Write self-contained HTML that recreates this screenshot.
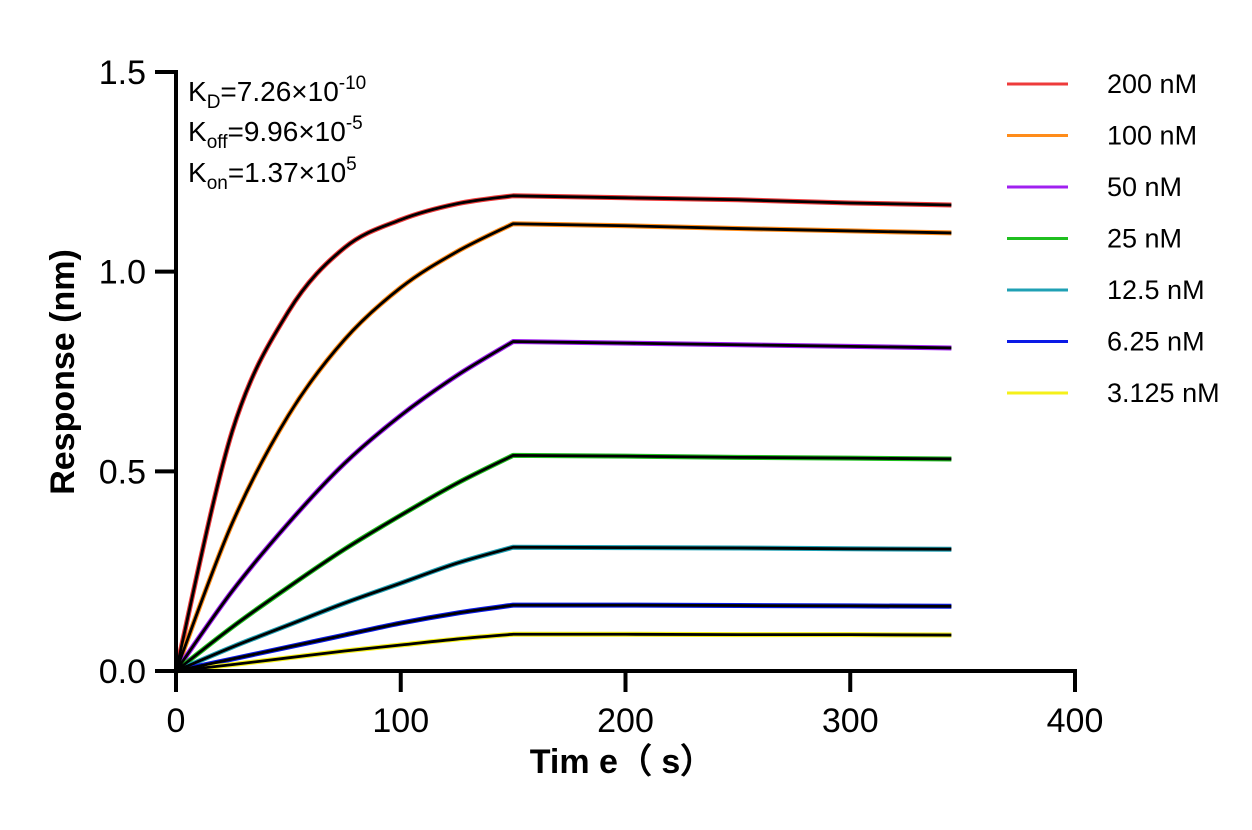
<!DOCTYPE html>
<html><head><meta charset="utf-8"><style>
body{margin:0;background:#fff}
svg text{font-family:"Liberation Sans",Arial,sans-serif;fill:#000}
</style></head><body>
<svg id="c" width="1252" height="825" xmlns="http://www.w3.org/2000/svg"></svg>
<script>
const times=[0,25,50,75,100,125,150,200,250,300,345];
const seriesNames=["200 nM","100 nM","50 nM","25 nM","12.5 nM","6.25 nM","3.125 nM"];
const seriesColors=["#ee3b3b","#ff8c1a","#a020f0","#1fbf1f","#1fa0b4","#0a1ae6","#f5f01a"];
const s200=[0,0.60,0.90,1.06,1.13,1.17,1.19,1.185,1.18,1.172,1.167];
const s100=[0,0.37,0.64,0.83,0.96,1.05,1.12,1.115,1.108,1.102,1.097];
const s50=[0,0.20,0.37,0.52,0.64,0.74,0.825,0.821,0.817,0.813,0.809];
const s25=[0,0.11,0.21,0.305,0.39,0.47,0.54,0.538,0.535,0.533,0.531];
const s12=[0,0.06,0.115,0.17,0.22,0.27,0.31,0.309,0.308,0.306,0.305];
const s6=[0,0.03,0.06,0.09,0.12,0.145,0.165,0.165,0.164,0.163,0.162];
const s3=[0,0.016,0.033,0.05,0.065,0.08,0.092,0.092,0.091,0.091,0.09];
const allSeries=[s200,s100,s50,s25,s12,s6,s3];
const xTicks=[0,100,200,300,400];
const yTicks=[0.0,0.5,1.0,1.5];
const X=t=>176+t*(1075-176)/400;
const Y=v=>671-v*(671-72)/1.5;
const svg=document.getElementById('c');
const NS="http://www.w3.org/2000/svg";
function el(tag,attrs,parent){const e=document.createElementNS(NS,tag);for(const k in attrs)e.setAttribute(k,attrs[k]);(parent||svg).appendChild(e);return e;}
function pathFor(vals){
  const p=vals.map((v,i)=>[X(times[i]),Y(v)]);
  let d="M"+p[0][0]+","+p[0][1];
  for(let i=0;i<p.length-1;i++){
    if(i>=6){d+=" L"+p[i+1][0]+","+p[i+1][1];continue;}
    const p0=p[Math.max(i-1,0)],p1=p[i],p2=p[i+1],p3=p[Math.min(i+2,6)];
    const c1=[p1[0]+(p2[0]-p0[0])/6,p1[1]+(p2[1]-p0[1])/6];
    const c2=[p2[0]-(p3[0]-p1[0])/6,p2[1]-(p3[1]-p1[1])/6];
    d+=` C${c1[0]},${c1[1]} ${c2[0]},${c2[1]} ${p2[0]},${p2[1]}`;
  }
  return d;
}
allSeries.forEach((vals,i)=>{
  const e=el('path',{d:pathFor(vals),fill:"none",stroke:seriesColors[i],"stroke-width":5,"stroke-linejoin":"round"});
  
  
});
allSeries.forEach((vals,i)=>{
  const e=el('path',{d:pathFor(vals),fill:"none",stroke:"#000","stroke-width":2.8,"stroke-linejoin":"round"});
  
  
});
let a=el('line',{x1:176,y1:70,x2:176,y2:673,stroke:"#000","stroke-width":4});

a=el('line',{x1:174,y1:671,x2:1077,y2:671,stroke:"#000","stroke-width":4});

xTicks.forEach(t=>{
  el('line',{x1:X(t),y1:671,x2:X(t),y2:692,stroke:"#000","stroke-width":4});
  const tx=el('text',{x:X(t),y:732,"font-size":34,"text-anchor":"middle"});tx.textContent=t;
  
});
yTicks.forEach(v=>{
  el('line',{x1:155,y1:Y(v),x2:176,y2:Y(v),stroke:"#000","stroke-width":4});
  const tx=el('text',{x:146,y:Y(v)+12,"font-size":34,"text-anchor":"end"});tx.textContent=v.toFixed(1);
  
});
seriesNames.forEach((n,i)=>{
  const y=84+i*51.5;
  const l=el('line',{x1:1007,y1:y,x2:1068,y2:y,stroke:seriesColors[i],"stroke-width":3});
  
  const t=el('text',{x:1107,y:y+9,"font-size":27});t.textContent=n;
  
});
</script>
<svg style="position:absolute;left:0;top:0" width="1252" height="825">
<text transform="translate(74,372) rotate(-90)" text-anchor="middle" font-size="34" font-weight="bold">Response (nm)</text>
<text x="622" y="773" text-anchor="middle" font-size="34" font-weight="bold">Tim e（ s）</text>
<text x="188" y="101" font-size="28">K<tspan font-size="19" dy="7">D</tspan><tspan dy="-7">=7.26×10</tspan><tspan font-size="19" dy="-12">-10</tspan></text>
<text x="188" y="141" font-size="28">K<tspan font-size="19" dy="7">off</tspan><tspan dy="-7">=9.96×10</tspan><tspan font-size="19" dy="-12">-5</tspan></text>
<text x="188" y="182" font-size="28">K<tspan font-size="19" dy="7">on</tspan><tspan dy="-7">=1.37×10</tspan><tspan font-size="19" dy="-12">5</tspan></text>
</svg>
</body></html>
